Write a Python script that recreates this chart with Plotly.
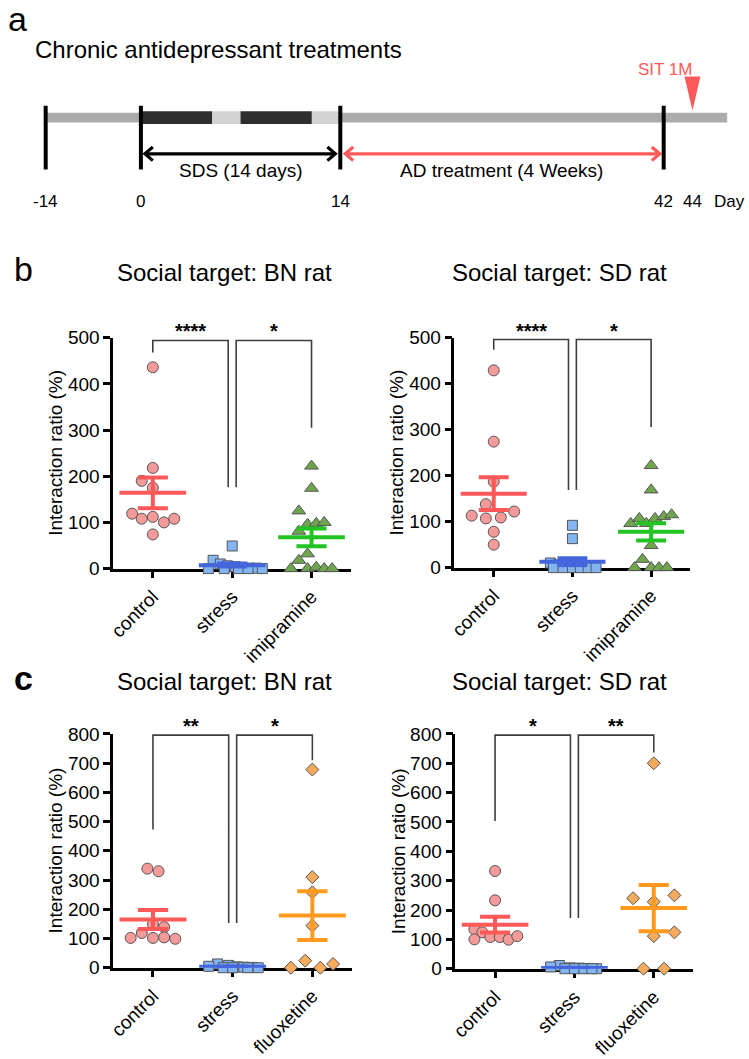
import numpy as np
import plotly.graph_objects as go

W, H = 749, 1059
FONT = "Arial, 'Liberation Sans', Helvetica, sans-serif"

# ---- data ------------------------------------------------------------------
categories_imi = ["control", "stress", "imipramine"]
categories_flx = ["control", "stress", "fluoxetine"]

# b: social interaction after imipramine, interaction ratio (%)
bn_imi_control = [436, 218, 190, 175, 119, 108, 112, 100, 108, 74]
bn_imi_stress = [49, 18, 10, 6, 4, 2, 1, 1, 0, 0, 0, 0, 0]
bn_imi_drug = [222, 174, 125, 96, 98, 100, 81, 32, 18, 0, 0, 3, 0, 0]
sd_imi_control = [429, 274, 187, 138, 122, 113, 107, 109, 78, 50]
sd_imi_stress = [92, 63, 10, 6, 4, 2, 1, 1, 0, 0, 0, 0, 0, 0]
sd_imi_drug = [222, 169, 96, 107, 96, 107, 111, 115, 48, 18, 0, 0, 0, 0]

# c: social interaction after fluoxetine, interaction ratio (%)
bn_flx_control = [339, 330, 149, 139, 119, 102, 102, 104, 99]
bn_flx_stress = [13, 8, 5, 3, 2, 1, 0, 0, 0, 0]
bn_flx_drug = [678, 310, 258, 144, 24, 0, 0, 13]
sd_flx_control = [333, 233, 134, 124, 100, 108, 108, 99, 111]
sd_flx_stress = [11, 6, 3, 2, 1, 0, 0, 0, 0, 0]
sd_flx_drug = [700, 240, 228, 250, 111, 124, 0, 0]

# a: timeline
timeline_days = [-14, 0, 14, 42, 44]
timeline_labels = ["-14", "0", "14", "42", "44"]
sds_days = [0, 5, 7, 12, 14]
sds_kind = ["stress", "rest", "stress", "rest"]

# ---- layout helpers --------------------------------------------------------
# schematic pixel positions of the day marks (the drawing is not to scale)
timeline_pos = [40, 136, 337, 663, 692]


def tx(day):
    return float(np.interp(day, timeline_days, timeline_pos))


# horizontal scatter of the points inside each column (category units)
jit_bn_imi = [
    [0, 0, -0.14, 0, -0.26, -0.14, 0, 0.14, 0.27, 0],
    [0, -0.24, -0.15, -0.06, 0.04, 0.13, 0.22, 0.31, -0.3, -0.1, 0.08, 0.2, 0.38],
    [0, 0, -0.16, -0.05, 0.06, 0.16, -0.16, -0.05, -0.16, -0.26, -0.05, 0.06, 0.16, 0.26],
]
jit_sd_imi = [
    [0, 0, 0, -0.1, 0.26, -0.28, -0.1, 0.09, 0, 0],
    [0, 0, -0.28, -0.18, -0.08, 0.02, 0.12, 0.22, -0.24, -0.12, 0, 0.1, 0.2, 0.3],
    [0, 0, -0.26, -0.15, -0.06, 0.05, 0.16, 0.26, 0, -0.11, -0.21, 0, 0.1, 0.2],
]
jit_bn_flx = [
    [-0.07, 0.07, 0, 0.14, -0.14, -0.28, 0, 0.14, 0.28],
    [-0.19, -0.05, -0.3, 0.05, 0.14, 0.25, -0.12, 0.0, 0.19, 0.32],
    [0, 0, 0, 0, -0.09, -0.27, 0.1, 0.26],
]
jit_sd_flx = [
    [0, 0, -0.26, -0.16, -0.26, -0.06, 0.06, 0.17, 0.28],
    [-0.19, -0.3, -0.06, 0.06, 0.17, 0.28, -0.12, 0, 0.12, 0.22],
    [0, -0.26, 0, 0.26, 0, 0.26, -0.13, 0.13],
]

STYLE = {
    "control": dict(symbol="circle", size=11, fill="#F59A9A", mean="#FF5858"),
    "stress": dict(symbol="square", size=10, fill="#82B5F2", mean="#4466DD"),
    "imipramine": dict(symbol="triangle-up", size=12, fill="#6FA64D", mean="#22C322"),
    "fluoxetine": dict(symbol="diamond", size=10, fill="#F5AA5C", mean="#FF9A1F"),
}

# px boxes: (left, right, top, bottom), bracket heights in data units
panels = [
    dict(ax=1, box=(108, 348, 335, 571), ymax=500, cats=categories_imi,
         groups=[bn_imi_control, bn_imi_stress, bn_imi_drug], jit=jit_bn_imi,
         title="Social target: BN rat", tcx=220, tcy=268,
         br=dict(leg=468, top=494, low1=176, low2=305), stars=["****", "*"]),
    dict(ax=2, box=(452, 690, 335, 570), ymax=500, cats=categories_imi,
         groups=[sd_imi_control, sd_imi_stress, sd_imi_drug], jit=jit_sd_imi,
         title="Social target: SD rat", tcx=558, tcy=268,
         br=dict(leg=474, top=496, low1=169, low2=306), stars=["****", "*"]),
    dict(ax=3, box=(108, 349, 740, 979), ymax=800, cats=categories_flx,
         groups=[bn_flx_control, bn_flx_stress, bn_flx_drug], jit=jit_bn_flx,
         title="Social target: BN rat", tcx=220, tcy=686,
         br=dict(leg=473, top=796, low1=153, low2=710), stars=["**", "*"]),
    dict(ax=4, box=(453, 693, 740, 980), ymax=800, cats=categories_flx,
         groups=[sd_flx_control, sd_flx_stress, sd_flx_drug], jit=jit_sd_flx,
         title="Social target: SD rat", tcx=558, tcy=686,
         br=dict(leg=503, top=796, low1=173, low2=737), stars=["*", "**"]),
]

fig = go.Figure()
annotations = []
shapes = []


def suffix(i):
    return "" if i == 1 else str(i)


axis_style = dict(showline=True, linewidth=2.5, linecolor="black", ticks="outside",
                  ticklen=7, tickwidth=2.5, tickcolor="black", showgrid=False,
                  zeroline=False, layer="below traces")

for p in panels:
    s = suffix(p["ax"])
    xr, yr = "x" + s, "y" + s
    left, right, top, bottom = p["box"]

    fig.update_layout(**{
        "xaxis" + s: dict(domain=[left / W, right / W], range=[-0.5, 2.5], anchor=yr,
                          tickmode="array", tickvals=[0, 1, 2], ticktext=p["cats"],
                          tickangle=-45, tickfont=dict(size=19, color="black", family=FONT),
                          **axis_style),
        "yaxis" + s: dict(domain=[1 - bottom / H, 1 - top / H], range=[0, p["ymax"]],
                          anchor=xr, tick0=0, dtick=100,
                          tickfont=dict(size=19, color="black", family=FONT), **axis_style),
    })

    # individual animals
    for c, (name, vals, jit) in enumerate(zip(p["cats"], p["groups"], p["jit"])):
        st = STYLE[name]
        fig.add_trace(go.Scatter(
            x=[c + j for j in jit], y=vals, xaxis=xr, yaxis=yr, mode="markers",
            cliponaxis=False, hoverinfo="skip",
            marker=dict(symbol=st["symbol"], size=st["size"], color=st["fill"],
                        line=dict(color="#555555", width=1)),
        ))

    # mean +/- SEM
    for c, (name, vals) in enumerate(zip(p["cats"], p["groups"])):
        v = np.asarray(vals, dtype=float)
        m = v.mean()
        sem = v.std(ddof=1) / np.sqrt(len(v))
        xs = [c - 0.42, c + 0.42, None, c, c, None, c - 0.19, c + 0.19, None, c - 0.19, c + 0.19]
        ys = [m, m, None, m - sem, m + sem, None, m + sem, m + sem, None, m - sem, m - sem]
        fig.add_trace(go.Scatter(
            x=xs, y=ys, xaxis=xr, yaxis=yr, mode="lines", hoverinfo="skip",
            line=dict(color=STYLE[name]["mean"], width=4),
        ))

    # significance brackets
    b = p["br"]
    fig.add_trace(go.Scatter(
        x=[0, 0, 0.95, 0.95, None, 1.05, 1.05, 2, 2],
        y=[b["leg"], b["top"], b["top"], b["low1"], None, b["low1"], b["top"], b["top"], b["low2"]],
        xaxis=xr, yaxis=yr, mode="lines", hoverinfo="skip",
        line=dict(color="#3D3D3D", width=1.6),
    ))
    for xc, txt in zip([0.475, 1.525], p["stars"]):
        annotations.append(dict(x=xc, y=b["top"], xref=xr, yref=yr, text=txt,
                                showarrow=False, yanchor="bottom", yshift=-4,
                                font=dict(size=20, color="black", family=FONT, weight="bold")))

    # titles
    annotations.append(dict(x=p["tcx"] / W, y=1 - p["tcy"] / H, xref="paper", yref="paper",
                            text=p["title"], showarrow=False, xanchor="center", yanchor="middle",
                            font=dict(size=24, color="black", family=FONT)))
    annotations.append(dict(x=(left - 58) / W, y=1 - (top + bottom) / 2 / H, xref="paper",
                            yref="paper", text="Interaction ratio (%)", textangle=-90,
                            showarrow=False, xanchor="center", yanchor="middle",
                            font=dict(size=19, color="black", family=FONT)))

# panel letters
for letter, x, y, bold in [("a", 0, 9, False), ("b", 6, 265, False), ("c", 6, 683, True)]:
    annotations.append(dict(x=x / W, y=1 - y / H, xref="paper", yref="paper", text=letter,
                            showarrow=False, xanchor="left", yanchor="middle",
                            font=dict(size=34, color="black", family=FONT,
                                      weight="bold" if bold else "normal")))

# ---- panel a: timeline -------------------------------------------------------
TA = 210
fig.update_layout(
    xaxis5=dict(domain=[0, 1], range=[0, W], visible=False, anchor="y5"),
    yaxis5=dict(domain=[1 - TA / H, 1], range=[TA, 0], visible=False, anchor="x5"),
)
tl = dict(xref="x5", yref="y5")

shapes.append(dict(type="rect", x0=tx(-14), x1=727, y0=105, y1=115,
                   fillcolor="#ABABAB", line=dict(width=0), **tl))
for d0, d1, kind in zip(sds_days[:-1], sds_days[1:], sds_kind):
    shapes.append(dict(type="rect", x0=tx(d0), x1=tx(d1), y0=103.5, y1=116.5,
                       fillcolor="#2E2E2E" if kind == "stress" else "#D2D2D2",
                       line=dict(width=0), **tl))
for d in timeline_days[:4]:
    shapes.append(dict(type="line", x0=tx(d), x1=tx(d), y0=98, y1=163,
                       line=dict(color="black", width=4), **tl))
tsit = tx(44)
shapes.append(dict(type="path", path=f"M {tsit - 8},68 L {tsit + 8},68 L {tsit},103 Z",
                   fillcolor="#FF5A5A", line=dict(width=0), **tl))


def double_arrow(x0, x1, y, color):
    hx, hy = 8, 7
    xs = [x0, x1, None, x0 + hx, x0, x0 + hx, None, x1 - hx, x1, x1 - hx]
    ys = [y, y, None, y - hy, y, y + hy, None, y - hy, y, y + hy]
    fig.add_trace(go.Scatter(x=xs, y=ys, xaxis="x5", yaxis="y5", mode="lines",
                             hoverinfo="skip", line=dict(color=color, width=3.2)))


double_arrow(tx(0) + 4, tx(14) - 5, 147, "black")
double_arrow(tx(14) + 5, tx(42) - 4, 147, "#FF5A5A")

annotations.append(dict(x=27, y=40, text="Chronic antidepressant treatments", showarrow=False,
                        xanchor="left", yanchor="middle",
                        font=dict(size=24, color="black", family=FONT), **tl))
annotations.append(dict(x=tsit - 28, y=61, text="SIT 1M", showarrow=False,
                        xanchor="center", yanchor="middle",
                        font=dict(size=17, color="#FF5A5A", family=FONT), **tl))
annotations.append(dict(x=(tx(0) + tx(14)) / 2, y=164, text="SDS (14 days)", showarrow=False,
                        xanchor="center", yanchor="middle",
                        font=dict(size=19, color="black", family=FONT), **tl))
annotations.append(dict(x=(tx(14) + tx(42)) / 2, y=164, text="AD treatment (4 Weeks)",
                        showarrow=False, xanchor="center", yanchor="middle",
                        font=dict(size=19, color="black", family=FONT), **tl))
for d, lab in zip(timeline_days, timeline_labels):
    annotations.append(dict(x=tx(d), y=196, text=lab, showarrow=False, xanchor="center",
                            yanchor="middle", font=dict(size=17, color="black", family=FONT), **tl))
annotations.append(dict(x=tx(44) + 37, y=196, text="Day", showarrow=False, xanchor="center",
                        yanchor="middle", font=dict(size=17, color="black", family=FONT), **tl))

fig.update_layout(
    width=W, height=H, margin=dict(l=0, r=0, t=0, b=0, pad=0),
    paper_bgcolor="white", plot_bgcolor="white", showlegend=False,
    font=dict(family=FONT, color="black"),
    annotations=annotations, shapes=shapes,
)

# the page body has a default 8px margin; drop it so the figure fills the window
fig.write_html("out.html", config={"displayModeBar": False},
               post_script="document.body.style.margin = '0px';")
